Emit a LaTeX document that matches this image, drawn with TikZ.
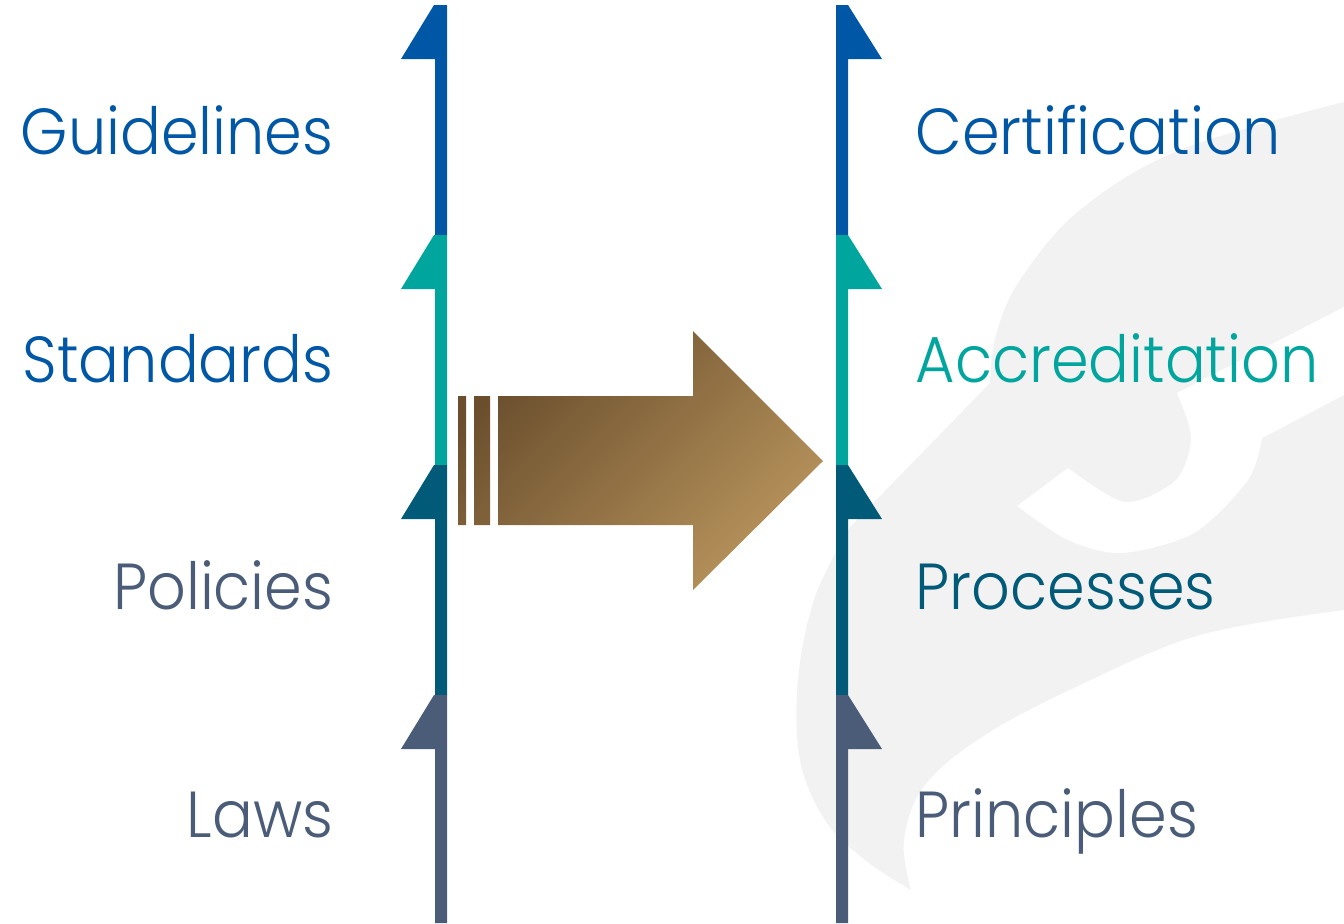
\documentclass[tikz,border=0pt]{standalone}
\usepackage{fontspec}
\setmainfont{Poppins}[UprightFont={* Light},FakeStretch=0.93]
\usetikzlibrary{shapes}
\definecolor{cblue}{HTML}{0057A5}
\definecolor{cteal}{HTML}{00A59D}
\definecolor{cdteal}{HTML}{005A78}
\definecolor{cslate}{HTML}{4A5C77}
\definecolor{lgray}{HTML}{F2F2F2}
\definecolor{gdark}{HTML}{6A4E2D}
\definecolor{glight}{HTML}{B8945C}
\tikzstyle{lbl}=[inner sep=0pt,font=\fontsize{18.5}{22}\selectfont]

\begin{document}
\begin{tikzpicture}[x=0.01cm,y=-0.01cm]
	\useasboundingbox (0,0) rectangle (1344,923);
	% logo behind the right column
	\fill[lgray] plot[smooth,tension=.6] coordinates {(1344,102) (1180,150) (1080,210) (1020,280) (996,335) (990,383)}
	-- plot[smooth,tension=.6] coordinates {(850,527) (815,597) (798,680) (800,760) (825,820) (865,860) (911,890)}
	-- plot[smooth,tension=.6] coordinates {(911,890) (904,840) (925,785) (985,735) (1080,685) (1200,635) (1344,610)} -- cycle;
	\fill[white] (1344,307) -- (1177,393)
	-- plot[smooth] coordinates {(1177,393) (1191,437) (1176,480) (1125,502) (1068,468)}
	-- (1017,506)
	-- plot[smooth] coordinates {(1017,506) (1068,540) (1122,553) (1194,533) (1248,480) (1262,438)}
	-- (1344,395) -- cycle;
	% the two columns
	\foreach \a/\b/\c in {5/235/cblue,235/465/cteal,465/695/cdteal,695/923/cslate}
	\fill[\c] (447,\a) -- (447,\b) -- (435,\b) -- (435,\a+54) -- (401,\a+54) -- (434,\a) -- cycle;
	\foreach \a/\b/\c in {5/235/cblue,235/465/cteal,465/695/cdteal,695/923/cslate}
	\fill[\c] (836,\a) -- (848,\a) -- (882,\a+54) -- (848,\a+54) -- (848,\b) -- (836,\b) -- cycle;
	% the arrow
	\shade[top color=gdark,bottom color=glight,shading angle=45]
	(458,396) rectangle (466,525) (474,396) rectangle (490,525)
	(498,396) -- (693,396) -- (693,331) -- (823,461) -- (693,590) -- (693,525) -- (498,525) -- cycle;
	% labels
	\foreach \y/\t/\c/\n in {154/Guidelines/cblue/guide,382/Standards/cblue/stand,609/Policies/cslate/polic,837/Laws/cslate/laws}
	\node[lbl,anchor=base east,text=\c] (\n) at (334,\y) {\t};
	\foreach \y/\t/\c/\n in {154/Certification/cblue/certif,382/Accreditation/cteal/accred,609/Processes/cdteal/proc,837/Principles/cslate/princ}
	\node[lbl,anchor=base west,text=\c] (\n) at (915,\y) {\t};
\end{tikzpicture}
\end{document}
